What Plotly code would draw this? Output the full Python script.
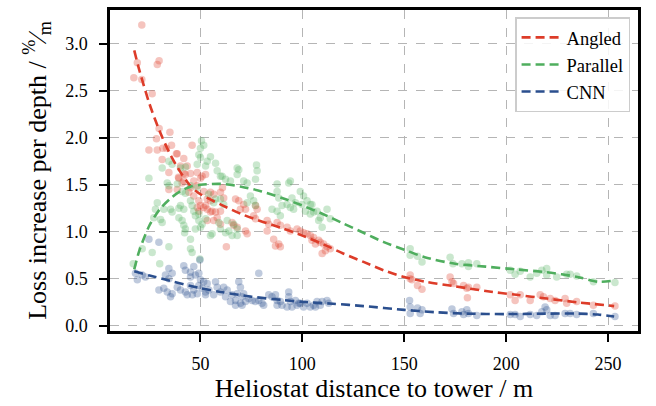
import plotly.graph_objects as go

# ---------------- data ----------------
angled_x = [21.2, 19.0, 17.3, 21.2, 28.8, 29.7, 26.3, 29.7, 35.0, 28.4, 24.7, 28.8, 31.5, 35.8, 45.9, 33.3,
            31.2, 38.6, 41.8, 34.5, 41.8, 45.1, 48.4, 50.0, 39.2, 38.2, 40.2, 43.5, 42.6, 39.4, 41.0, 41.8,
            46.7, 45.1, 48.4, 34.5, 38.6, 44.3, 46.7, 49.2, 50.0, 53.3, 52.5, 48.4, 49.2, 50.8, 52.5, 51.6,
            54.9, 56.5, 59.8, 60.8, 51.6, 53.3, 55.7, 57.4, 59.8, 54.9, 67.2, 68.8, 71.2, 69.6, 72.1, 77.0,
            77.8, 65.5, 66.3, 53.3, 56.5, 59.8, 82.7, 83.5, 87.6, 89.2, 92.5, 97.4, 62.7, 76.1, 77.0, 72.1,
            72.9, 68.0, 82.7, 85.9, 88.4, 89.2, 86.8, 94.1, 99.0, 100.6, 102.3, 103.9, 105.5, 108.0, 110.4,
            112.1, 61.4, 54.9, 58.2, 104.7, 106.4, 108.8, 111.3, 113.7, 109.7, 152.9, 152.9, 153.8, 156.5,
            158.7, 172.5, 173.4, 174.2, 179.1, 180.7, 181.5, 185.6, 181.0, 202.0, 204.4, 206.9, 211.8, 216.7,
            218.3, 221.6, 224.0, 228.9, 229.7, 234.6, 242.8, 253.4]
angled_y = [3.20, 2.80, 2.64, 2.62, 2.78, 2.82, 2.47, 2.10, 2.06, 1.99, 1.87, 1.87, 1.89, 1.92, 1.92, 1.89,
            1.77, 1.83, 1.78, 1.63, 1.62, 1.62, 1.63, 1.57, 1.58, 1.83, 1.70, 1.70, 1.61, 1.57, 1.52, 1.54,
            1.54, 1.47, 1.49, 1.45, 1.45, 1.42, 1.38, 1.33, 1.28, 1.35, 1.28, 1.26, 1.22, 1.59, 1.61, 1.43,
            1.42, 1.40, 1.42, 1.47, 1.26, 1.24, 1.22, 1.21, 1.22, 1.33, 1.35, 1.33, 1.29, 1.24, 1.24, 1.28,
            1.24, 1.10, 1.07, 1.12, 1.12, 1.08, 1.12, 1.08, 1.10, 1.07, 1.05, 1.03, 0.84, 1.17, 1.14, 1.01,
            0.98, 1.05, 1.01, 0.92, 0.87, 0.84, 0.85, 1.01, 1.01, 0.99, 0.98, 0.96, 0.94, 0.91, 0.87,
            0.84, 1.36, 1.21, 1.15, 0.91, 0.87, 0.89, 0.80, 0.82, 0.77, 0.54, 0.50, 0.49, 0.43,
            0.39, 0.52, 0.47, 0.45, 0.43, 0.40, 0.41, 0.41, 0.30, 0.33, 0.27, 0.33, 0.27, 0.33,
            0.31, 0.29, 0.27, 0.29, 0.24, 0.26, 0.22, 0.21]

parallel_x = [50.5, 51.6, 49.2, 50.0, 48.4, 54.9, 53.3, 57.4, 52.5, 68.0, 68.8, 68.0, 77.5, 77.8, 58.2, 59.8,
              62.3, 31.2, 34.5, 36.1, 24.7, 40.2, 42.6, 33.7, 34.5, 38.6, 41.0, 42.6, 28.8, 32.0, 35.3, 39.4,
              36.1, 27.1, 30.4, 31.2, 41.8, 45.1, 45.9, 46.7, 49.2, 47.5, 49.2, 50.0, 47.5, 45.1, 48.4, 50.0,
              60.6, 64.7, 77.0, 71.2, 72.9, 87.6, 87.6, 88.4, 93.3, 99.0, 54.0, 57.4, 56.5, 59.8, 61.4, 74.5,
              76.1, 72.9, 77.0, 85.1, 87.6, 90.0, 92.5, 94.1, 89.2, 52.5, 50.8, 59.0, 59.8, 63.1, 66.3, 68.0,
              63.9, 68.0, 55.7, 27.9, 34.5, 21.4, 26.3, 17.0, 30.0, 45.1, 45.9, 49.7, 40.2, 41.8, 39.4, 41.0,
              42.6, 62.3, 65.5, 42.2, 45.1, 54.9, 102.3, 103.9, 107.2, 108.8, 112.1, 109.7, 95.7, 94.1, 94.9,
              96.6, 99.8, 100.6, 101.5, 104.7, 105.5, 103.9, 108.0, 113.7, 152.9, 152.9, 156.5, 158.7, 172.5,
              173.9, 178.3, 181.5, 181.5, 185.6, 202.0, 204.4, 206.9, 211.8, 215.0, 217.5, 219.9, 219.9, 224.8,
              229.7, 231.4, 234.6, 242.8, 253.4]
parallel_y = [1.97, 1.92, 1.82, 1.79, 1.72, 1.80, 1.75, 1.73, 1.70, 1.68, 1.66, 1.61, 1.71, 1.65, 1.65, 1.59,
              1.56, 1.68, 1.75, 1.72, 1.57, 1.68, 1.69, 1.52, 1.49, 1.51, 1.43, 1.41, 1.31, 1.24, 1.24, 1.25,
              1.21, 1.15, 1.13, 1.10, 1.07, 1.33, 1.28, 1.22, 1.19, 1.17, 1.12, 1.05, 1.03, 1.49, 1.47, 1.89,
              1.59, 1.54, 1.56, 1.54, 1.52, 1.51, 1.43, 1.36, 1.52, 1.43, 1.40, 1.35, 1.31, 1.35, 1.29, 1.38,
              1.33, 1.31, 1.28, 1.24, 1.22, 1.28, 1.29, 1.26, 1.17, 1.14, 1.08, 1.10, 1.03, 1.12, 1.08, 1.03,
              1.01, 0.96, 0.98, 1.24, 0.84, 0.82, 0.78, 0.66, 0.66, 0.82, 0.78, 0.71, 1.28, 1.24, 1.15, 1.12,
              1.03, 0.99, 0.96, 0.99, 0.92, 0.96, 1.33, 1.29, 1.22, 1.15, 1.24, 1.05, 1.24, 1.54, 1.36,
              1.31, 1.29, 1.38, 1.22, 1.29, 1.21, 1.19, 1.12, 1.14, 0.82, 0.75, 0.74, 0.68, 0.73,
              0.66, 0.66, 0.63, 0.67, 0.66, 0.59, 0.55, 0.58, 0.52, 0.56, 0.59, 0.61, 0.54, 0.52,
              0.55, 0.55, 0.53, 0.47, 0.46]

cnn_x = [24.7, 29.6, 18.1, 19.0, 21.4, 23.0, 34.5, 36.1, 32.8, 34.5, 41.8, 42.6, 45.1, 46.7, 45.1, 47.5,
         49.2, 29.6, 32.0, 33.7, 36.1, 35.3, 38.6, 40.2, 42.6, 43.5, 45.1, 46.7, 48.4, 46.0, 49.2, 50.8,
         52.5, 53.3, 54.1, 50.0, 51.6, 49.7, 78.6, 57.4, 58.2, 59.8, 56.5, 52.5, 61.4, 63.1, 62.3, 65.5,
         64.7, 67.2, 68.8, 69.6, 68.0, 70.4, 71.2, 69.6, 72.1, 67.2, 70.4, 73.7, 75.3, 76.9, 78.6, 80.2,
         81.0, 83.5, 85.1, 86.8, 87.6, 89.2, 87.6, 90.0, 93.3, 93.3, 94.1, 94.9, 96.6, 98.2, 92.5, 97.4,
         99.0, 100.6, 102.3, 103.9, 105.5, 107.2, 106.4, 108.8, 109.7, 112.1, 112.9, 152.6, 152.9, 152.9,
         156.5, 157.8, 158.7, 173.4, 174.2, 178.3, 179.1, 180.7, 181.5, 185.6, 202.0, 204.4, 206.9, 211.8,
         215.0, 217.5, 219.1, 219.9, 221.6, 224.0, 228.9, 231.4, 234.6, 242.8, 253.4]
cnn_y = [0.92, 0.89, 0.56, 0.49, 0.54, 0.52, 0.61, 0.56, 0.54, 0.50, 0.64, 0.59, 0.57, 0.63, 0.52, 0.54,
         0.56, 0.38, 0.40, 0.36, 0.34, 0.31, 0.41, 0.38, 0.36, 0.33, 0.43, 0.38, 0.34, 0.33, 0.43, 0.40,
         0.36, 0.45, 0.38, 0.49, 0.47, 0.70, 0.56, 0.47, 0.41, 0.36, 0.33, 0.33, 0.41, 0.38, 0.31, 0.33,
         0.26, 0.27, 0.47, 0.41, 0.34, 0.31, 0.34, 0.24, 0.26, 0.22, 0.22, 0.29, 0.27, 0.26, 0.27, 0.24,
         0.22, 0.33, 0.31, 0.33, 0.27, 0.26, 0.22, 0.22, 0.36, 0.31, 0.26, 0.20, 0.27, 0.24, 0.20, 0.22,
         0.24, 0.20, 0.24, 0.20, 0.22, 0.26, 0.20, 0.22, 0.26, 0.27, 0.24, 0.27, 0.20, 0.13,
         0.19, 0.13, 0.17, 0.18, 0.13, 0.15, 0.12, 0.17, 0.13, 0.11, 0.12, 0.12, 0.10, 0.12,
         0.11, 0.15, 0.20, 0.17, 0.11, 0.11, 0.13, 0.13, 0.12, 0.13, 0.10]

# fitted trend curves (dashed)
fit_angled_x = [17.5, 20, 25, 30, 35, 40, 45, 50, 60, 70, 80, 90, 100, 110, 120, 130, 140, 150, 160, 175, 190, 205, 220, 235, 253]
fit_angled_y = [2.93, 2.72, 2.36, 2.07, 1.83, 1.64, 1.49, 1.40, 1.29, 1.19, 1.11, 1.04, 0.96, 0.87, 0.77, 0.68, 0.59, 0.52, 0.47, 0.42, 0.37, 0.33, 0.29, 0.25, 0.21]

fit_parallel_x = [17.5, 20, 25, 30, 35, 40, 45, 50, 60, 70, 80, 90, 100, 110, 120, 130, 140, 150, 160, 175, 190, 205, 220, 235, 245, 253]
fit_parallel_y = [0.60, 0.80, 1.07, 1.24, 1.35, 1.43, 1.48, 1.50, 1.51, 1.48, 1.43, 1.36, 1.28, 1.19, 1.09, 0.99, 0.89, 0.81, 0.73, 0.66, 0.63, 0.60, 0.57, 0.52, 0.47, 0.48]

fit_cnn_x = [17.5, 25, 35, 50, 60, 75, 90, 100, 115, 130, 150, 165, 180, 200, 220, 235, 245, 253]
fit_cnn_y = [0.58, 0.535, 0.48, 0.40, 0.36, 0.31, 0.275, 0.255, 0.235, 0.21, 0.17, 0.145, 0.13, 0.125, 0.13, 0.13, 0.12, 0.10]

series_names = ["Angled", "Parallel", "CNN"]
colors = ["#dd3c29", "#4fae5e", "#2b4f8e"]

x_ticks = [50, 100, 150, 200, 250]
y_ticks = [0.0, 0.5, 1.0, 1.5, 2.0, 2.5, 3.0]

# ---------------- figure ----------------
FONT = "Liberation Serif"
fig = go.Figure()

scatters = [(angled_x, angled_y), (parallel_x, parallel_y), (cnn_x, cnn_y)]
fits = [(fit_angled_x, fit_angled_y), (fit_parallel_x, fit_parallel_y), (fit_cnn_x, fit_cnn_y)]

for (sx, sy), name, c in zip(scatters, series_names, colors):
    fig.add_trace(go.Scatter(x=sx, y=sy, mode="markers", showlegend=False,
                             marker=dict(size=7.5, color=c, opacity=0.3, line=dict(width=0)),
                             hoverinfo="skip"))

for (fx, fy), name, c in zip(fits, series_names, colors):
    fig.add_trace(go.Scatter(x=fx, y=fy, mode="lines", name=name,
                             line=dict(color=c, width=2.6, dash="9px,5px", shape="spline", smoothing=0.8)))

axis_common = dict(showline=True, linecolor="black", linewidth=2.5, mirror=True,
                   ticks="outside", ticklen=8, tickwidth=2, tickcolor="black",
                   showgrid=True, gridcolor="#b5b5b5", gridwidth=0.8, griddash="dash",
                   zeroline=False, tickfont=dict(family=FONT, size=18, color="black"))

fig.update_layout(
    width=656, height=406,
    margin=dict(l=110, r=18, t=7, b=75),
    paper_bgcolor="white", plot_bgcolor="white",
    font=dict(family=FONT, color="black"),
    xaxis=dict(range=[5.6, 264.7], tickvals=x_ticks, ticklabelstandoff=7,
               title=dict(text="Heliostat distance to tower / m", font=dict(family=FONT, size=26), standoff=3),
               **axis_common),
    yaxis=dict(range=[-0.055, 3.36], tickvals=y_ticks, tickformat=".1f", ticklabelstandoff=8,
               title=dict(text="Loss increase per depth / <sup>%</sup>⁄<sub>m</sub>",
                          font=dict(family=FONT, size=26), standoff=12),
               **axis_common),
    legend=dict(x=0.985, y=0.977, xanchor="right", yanchor="top",
                bgcolor="rgba(255,255,255,0.85)", bordercolor="#cccccc", borderwidth=1.5,
                font=dict(family=FONT, size=18.5), itemwidth=40, tracegroupgap=0),
    showlegend=True,
)

fig.write_html("out.html")
